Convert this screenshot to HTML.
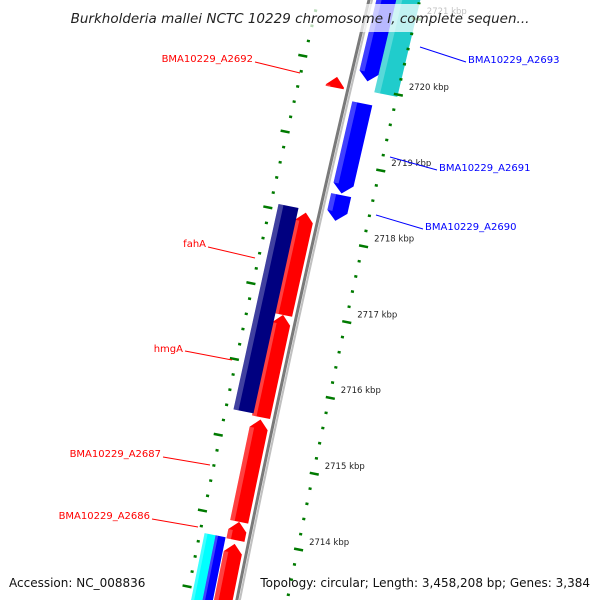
<!DOCTYPE html>
<html><head><meta charset="utf-8"><style>
body{margin:0;background:#fff}
svg{display:block;font-family:"DejaVu Sans","Liberation Sans",sans-serif}
</style></head><body>
<svg id="map" width="600" height="600" viewBox="0 0 600 600">
<g id="backbone"></g>
<g id="feats"></g>
<g id="ticks"></g>
<g id="labels"></g>
<rect x="0" y="4" width="600" height="28" fill="#fff" opacity="0.72"/>
<text x="300" y="23" text-anchor="middle" font-size="13.5" font-style="italic" fill="#222">Burkholderia mallei NCTC 10229 chromosome I, complete sequen...</text>
<text x="9" y="587" font-size="12" fill="#111">Accession: NC_008836</text>
<text x="590" y="587" text-anchor="end" font-size="12" fill="#111">Topology: circular; Length: 3,458,208 bp; Genes: 3,384</text>
</svg>
<script>
// data (kbp)
const featNames=["blue-top","cyan-top","blue-2691","blue-2690","A2692","fahA","hmgA","A2687","A2686","red-bottom","navy","cyan-bottom","blue-bottom"];
const featStart=[2720.09,2719.97,2718.61,2718.25,2719.93,2716.93,2715.58,2714.20,2713.96,2713.00,2715.61,2713.00,2713.00];
const featEnd=[2721.4,2721.4,2719.80,2718.59,2720.07,2718.28,2716.93,2715.55,2714.20,2713.91,2718.32,2713.97,2713.97];
const featTrack=["fwd1","fwd2","fwd1","fwd1","rev1","rev1","rev1","rev1","rev1","rev1","rev2","rev3","rev4"];
const featArrow=["down","none","down","down","up","up","up","up","up","up","none","none","none"];
const featColor=["#0000ff","#20cccc","#0000ff","#0000ff","#ff0000","#ff0000","#ff0000","#ff0000","#ff0000","#ff0000","#000080","#00ffff","#0000ff"];
const tickKbp=[2714,2715,2716,2717,2718,2719,2720,2721];
const labelNames=["BMA10229_A2692","fahA","hmgA","BMA10229_A2687","BMA10229_A2686","BMA10229_A2693","BMA10229_A2691","BMA10229_A2690"];
const labelSide=["rev","rev","rev","rev","rev","fwd","fwd","fwd"];

// layout for labels (pixel positions: text anchor, line start, line end)
const labelLayout=[[253,62,255,62,300,73],[206,247,208,247,255,258],[183,352,185,351,232,360],[161,457,163,457,210,465],[150,519,152,519,198,527],[468,63,420,47,466,62],[439,171,390,157,437,170],[425,230,376,215,423,229]];

const NS="http://www.w3.org/2000/svg";
function yOf(k){return 85+(2720-k)*75.8;}
function bx(y){return 370-0.24*y+3.3e-5*y*y;}
function pt(k,o){const y=yOf(k);return [bx(y)+o,y+o*0.2];}
const tracks={fwd1:[6,26],fwd2:[25,48],rev1:[-23,-5],rev2:[-42,-22],rev3:[-45,-33],rev4:[-34,-24]};
function mk(tag,attrs,parent){const e=document.createElementNS(NS,tag);for(const k in attrs)e.setAttribute(k,attrs[k]);parent.appendChild(e);return e;}

// backbone
const bb=document.getElementById('backbone');
let d1="",d2="";for(let y=-20;y<=620;y+=10){d1+=(y==-20?"M":"L")+(bx(y)-1)+" "+y;d2+=(y==-20?"M":"L")+(bx(y)+2)+" "+y;}
const bl=mk('path',{d:d1,stroke:"#7a7a7a","stroke-width":3,fill:"none"},bb);


const bl2=mk('path',{d:d2,stroke:"#c0c0c0","stroke-width":2,fill:"none"},bb);



// features
const fg=document.getElementById('feats');
const kPerPx=1/75.8;
featNames.forEach((n,i)=>{
  const [o1,o2]=tracks[featTrack[i]];const om=(o1+o2)/2;
  let s=featStart[i],e=featEnd[i];const a=featArrow[i];const tip=9*kPerPx;
  let pts=[];
  if(a=="up"){pts=[pt(s,o1),pt(e-tip,o1),pt(e,om),pt(e-tip,o2),pt(s,o2)];}
  else if(a=="down"){pts=[pt(e,o1),pt(s+tip,o1),pt(s,om),pt(s+tip,o2),pt(e,o2)];}
  else{pts=[pt(s,o1),pt(e,o1),pt(e,o2),pt(s,o2)];}
  const p=mk('polygon',{points:pts.map(q=>q.join(",")).join(" "),fill:featColor[i]},fg);
  
  
  const sl=o1+(o2-o1)*0.25;
  const hp=[pt(s+(a=="down"?tip:0),o1),pt(e-(a=="up"?tip:0),o1),pt(e-(a=="up"?tip:0),sl),pt(s+(a=="down"?tip:0),sl)];
  const h=mk('polygon',{points:hp.map(q=>q.join(",")).join(" "),fill:"#fff",opacity:0.25},fg);
  
  
});

// ticks
const tg=document.getElementById('ticks');
for(let k=2713;k<=2721.5;k+=0.2){
  const kk=Math.round(k*10)/10;const isMaj=Math.abs(kk-Math.round(kk))<0.01;
  const a=pt(kk,isMaj?44:46),b=pt(kk,isMaj?53:49);
  const l=mk('line',{x1:a[0],y1:a[1],x2:b[0],y2:b[1],stroke:"#007a00","stroke-width":2.5},tg);
  
  
  const kl=kk+0.25;
  const c=pt(kl,isMaj?-56:-51),dd=pt(kl,isMaj?-47:-48);
  const l2=mk('line',{x1:c[0],y1:c[1],x2:dd[0],y2:dd[1],stroke:"#007a00","stroke-width":2.5},tg);
  
  
}
tickKbp.forEach(k=>{
  const p=pt(k,58);
  const t=mk('text',{x:p[0]+1,y:yOf(k)+5,"font-size":8.5,fill:"#222"},tg);
  t.textContent=k+" kbp";
  
  
});

// labels
const lg=document.getElementById('labels');
labelNames.forEach((n,i)=>{
  const fwd=labelSide[i]=="fwd";const L=labelLayout[i];
  const col=fwd?"#0000ff":"#ff0000";
  const ln=mk('line',{x1:L[2],y1:L[3],x2:L[4],y2:L[5],stroke:col,"stroke-width":1},lg);
  
  
  const t=mk('text',{x:L[0],y:L[1],"font-size":10,fill:col,"text-anchor":fwd?"start":"end"},lg);
  t.textContent=n;
  
  
});
</script>
</body></html>
